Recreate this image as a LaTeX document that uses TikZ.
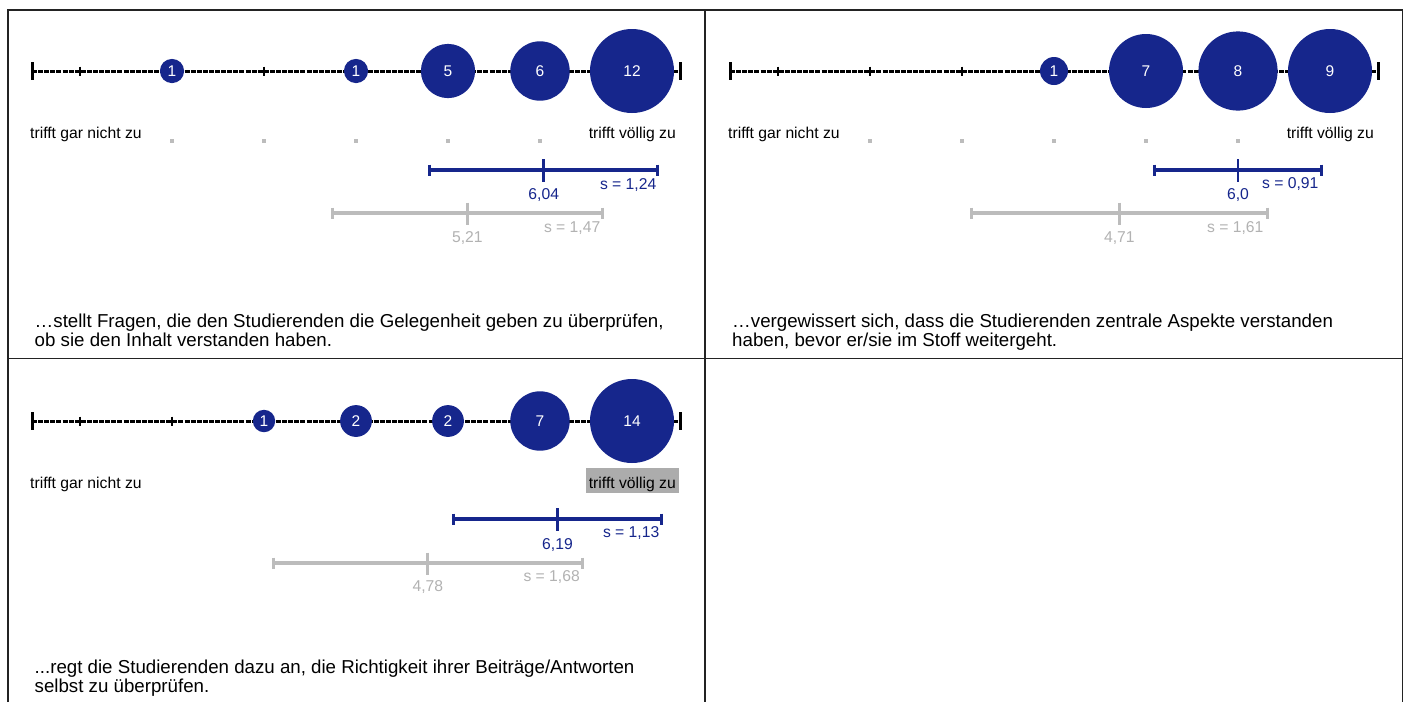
\documentclass[tikz,border=0pt]{standalone}
\usepackage{fontspec}
\setmainfont{Liberation Sans}
\definecolor{bblue}{RGB}{22,38,140}
\definecolor{bgrey}{RGB}{188,188,188}
\definecolor{lgrey}{RGB}{178,178,178}
\definecolor{hgrey}{RGB}{172,172,172}
\definecolor{framec}{RGB}{35,35,35}
\begin{document}
\begin{tikzpicture}[x=1pt,y=-1pt,
  lab/.style={font=\fontsize{15.7}{18}\selectfont, inner sep=0pt},
  body/.style={font=\fontsize{18.7}{20}\selectfont, inner sep=0pt, anchor=base west},
  bub/.style={circle, fill=bblue, draw=none, inner sep=0pt, text=white, font=\fontsize{15.5}{18}\selectfont},
  scaleline/.style={line width=3pt, dash pattern=on 5pt off 1.1pt},
  endtick/.style={line width=3pt},
  midtick/.style={line width=2.4pt},
  bar/.style={line width=3.2pt},
  bartick/.style={line width=2.8pt},
  dotmark/.style={rectangle, fill=bgrey, draw=none, minimum size=3.2pt, inner sep=0pt},
]
\useasboundingbox (0,0) rectangle (1407,702);
\fill[white] (0,0) rectangle (1407,702);
% table frame
\draw[framec, line width=1.6pt] (8,702) -- (8,10) -- (1402.5,10) -- (1402.5,702);
\draw[framec, line width=1.6pt] (705,10) -- (705,702);
\draw[framec, line width=1.6pt] (8,358.5) -- (1402.5,358.5);

% ================= Panel 1 =================
\begin{scope}
\coordinate (aL) at (32,71); \coordinate (aR) at (680,71);
\draw[scaleline] (aL) -- (aR);
\draw[endtick] (32,62) -- (32,80);
\draw[endtick] (680,62) -- (680,80);
\foreach \x in {80,264} \draw[midtick] (\x,66.5) -- (\x,75.5);
\node[bub, minimum size=24.2] (a2) at (172,71) {1};
\node[bub, minimum size=24.2] (a4) at (356,71) {1};
\node[bub, minimum size=54.2] (a5) at (448,71) {5};
\node[bub, minimum size=59.4] (a6) at (540,71) {6};
\node[bub, minimum size=84] (a7) at (632,71) {12};
\node[lab, anchor=base west] (alo) at (30,138) {trifft gar nicht zu};
\node[lab, anchor=base east] (ahi) at (676,138) {trifft völlig zu};
\foreach \x in {172,264,356,448,540} \node[dotmark] at (\x,141) {};
% blue bar
\coordinate (abL) at (429.6,170); \coordinate (abR) at (657.8,170);
\draw[bar, bblue] (abL) -- (abR);
\draw[bartick, bblue] (429.6,164.5) -- (429.6,175.5);
\draw[bartick, bblue] (657.8,164.5) -- (657.8,175.5);
\draw[bartick, bblue] (543.7,159) -- (543.7,182);
\node[lab, text=bblue, anchor=base] (abm) at (543.7,199) {6,04};
\node[lab, text=bblue, anchor=base east] (abs) at (656.5,189.3) {s = 1,24};
% grey bar
\coordinate (agL) at (332.1,213); \coordinate (agR) at (602.6,213);
\draw[bar, bgrey] (agL) -- (agR);
\draw[bartick, bgrey] (332.1,207.5) -- (332.1,218.5);
\draw[bartick, bgrey] (602.6,207.5) -- (602.6,218.5);
\draw[bartick, bgrey] (467.3,202.5) -- (467.3,224.5);
\node[lab, text=lgrey, anchor=base] (agm) at (467.3,242.7) {5,21};
\node[lab, text=lgrey, anchor=base east] (ags) at (600.5,232.7) {s = 1,47};
\node[body] (at1) at (34.5,327) {…stellt Fragen, die den Studierenden die Gelegenheit geben zu überprüfen,};
\node[body] (at2) at (34.5,346.7) {ob sie den Inhalt verstanden haben.};
\end{scope}

% ================= Panel 2 =================
\begin{scope}[shift={(698,0)}]
\coordinate (bL) at (32,71); \coordinate (bR) at (680,71);
\draw[scaleline] (bL) -- (bR);
\draw[endtick] (32,62) -- (32,80);
\draw[endtick] (680,62) -- (680,80);
\foreach \x in {80,172,264} \draw[midtick] (\x,66.5) -- (\x,75.5);
\node[bub, minimum size=28] (b4) at (356,71) {1};
\node[bub, minimum size=74] (b5) at (448,71) {7};
\node[bub, minimum size=79.2] (b6) at (540,71) {8};
\node[bub, minimum size=84] (b7) at (632,71) {9};
\node[lab, anchor=base west] (blo) at (30,138) {trifft gar nicht zu};
\node[lab, anchor=base east] (bhi) at (676,138) {trifft völlig zu};
\foreach \x in {172,264,356,448,540} \node[dotmark] at (\x,141) {};
% blue bar
\coordinate (bbL) at (456.3,170); \coordinate (bbR) at (623.7,170);
\draw[bar, bblue] (bbL) -- (bbR);
\draw[bartick, bblue] (456.3,164.5) -- (456.3,175.5);
\draw[bartick, bblue] (623.7,164.5) -- (623.7,175.5);
\draw[bartick, bblue] (540,159) -- (540,182);
\node[lab, text=bblue, anchor=base] (bbm) at (540,199.3) {6,0};
\node[lab, text=bblue, anchor=base east] (bbs) at (620.6,188.3) {s = 0,91};
% grey bar
\coordinate (bgL) at (273.2,213); \coordinate (bgR) at (569.4,213);
\draw[bar, bgrey] (bgL) -- (bgR);
\draw[bartick, bgrey] (273.2,207.5) -- (273.2,218.5);
\draw[bartick, bgrey] (569.4,207.5) -- (569.4,218.5);
\draw[bartick, bgrey] (421.3,202.5) -- (421.3,224.5);
\node[lab, text=lgrey, anchor=base] (bgm) at (421.3,242.7) {4,71};
\node[lab, text=lgrey, anchor=base east] (bgs) at (565.6,232.7) {s = 1,61};
\node[body] (bt1) at (34,327) {…vergewissert sich, dass die Studierenden zentrale Aspekte verstanden};
\node[body] (bt2) at (34,346.7) {haben, bevor er/sie im Stoff weitergeht.};
\end{scope}

% ================= Panel 3 =================
\begin{scope}[shift={(0,350)}]
\coordinate (cL) at (32,71); \coordinate (cR) at (680,71);
\draw[scaleline] (cL) -- (cR);
\draw[endtick] (32,62) -- (32,80);
\draw[endtick] (680,62) -- (680,80);
\foreach \x in {80,172} \draw[midtick] (\x,66.5) -- (\x,75.5);
\node[bub, minimum size=22.4] (c3) at (264,71) {1};
\node[bub, minimum size=31.8] (c4) at (356,71) {2};
\node[bub, minimum size=31.8] (c5) at (448,71) {2};
\node[bub, minimum size=59.4] (c6) at (540,71) {7};
\node[bub, minimum size=84] (c7) at (632,71) {14};
\node[lab, anchor=base west] (clo) at (30,138) {trifft gar nicht zu};
\fill[hgrey] (586,118) rectangle (679,143);
\node[lab, anchor=base east] (chi) at (676,138) {trifft völlig zu};
% blue bar
\coordinate (cbL) at (453.5,169); \coordinate (cbR) at (661.4,169);
\draw[bar, bblue] (cbL) -- (cbR);
\draw[bartick, bblue] (453.5,163.5) -- (453.5,174.5);
\draw[bartick, bblue] (661.4,163.5) -- (661.4,174.5);
\draw[bartick, bblue] (557.5,158) -- (557.5,181);
\node[lab, text=bblue, anchor=base] (cbm) at (557.5,199) {6,19};
\node[lab, text=bblue, anchor=base east] (cbs) at (659.5,187.3) {s = 1,13};
% grey bar
\coordinate (cgL) at (273.2,213); \coordinate (cgR) at (582.3,213);
\draw[bar, bgrey] (cgL) -- (cgR);
\draw[bartick, bgrey] (273.2,207.5) -- (273.2,218.5);
\draw[bartick, bgrey] (582.3,207.5) -- (582.3,218.5);
\draw[bartick, bgrey] (427.8,202.5) -- (427.8,224.5);
\node[lab, text=lgrey, anchor=base] (cgm) at (427.8,241.7) {4,78};
\node[lab, text=lgrey, anchor=base east] (cgs) at (580,231.7) {s = 1,68};
\node[body] (ct1) at (34.5,323.3) {...regt die Studierenden dazu an, die Richtigkeit ihrer Beiträge/Antworten};
\node[body] (ct2) at (34.5,342.7) {selbst zu überprüfen.};
\end{scope}
\end{tikzpicture}
\end{document}
